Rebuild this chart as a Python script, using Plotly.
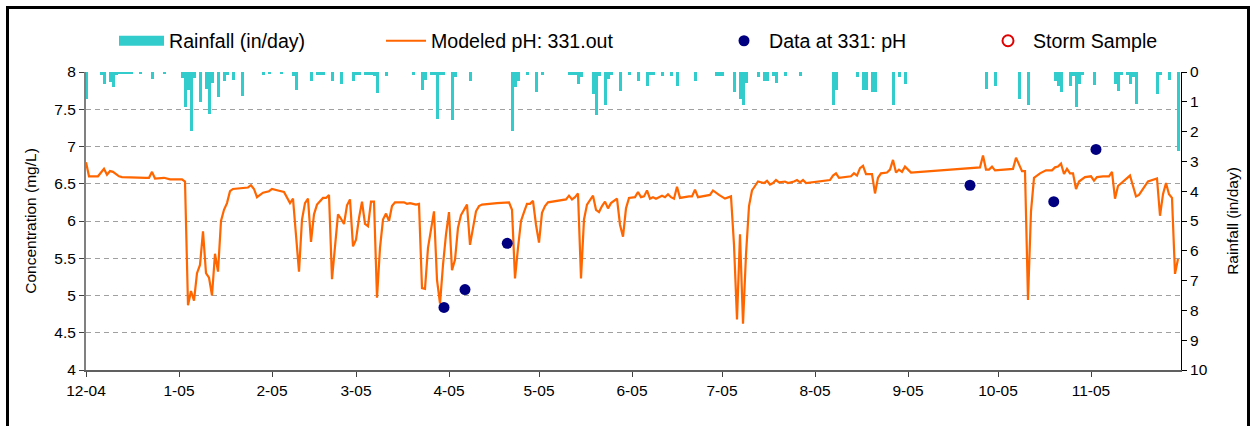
import pandas as pd
import plotly.graph_objects as go

START = pd.Timestamp("2004-12-01")

# Modeled pH (day offset from 2004-12-01, value)
ph_days = [0,1,4,6,7,8,9,11,12,16,20,21,22,23,26,28,32,33,34,35,36,37,38,39,40,41,42,43,44,45,46,47,48,49,
           54,55,56,57,59,61,62,64,66,68,69,71,72,73,74,75,76,77,79,80,81,82,84,85,86,87,88,89,90,91,92,93,94,95,96,97,
           98,99,100,101,102,103,106,107,108,110,111,112,113,114,115,116,117,118,119,120,121,122,123,124,125,127,128,
           130,131,132,137,141,142,143,144,145,146,147,148,149,150,151,152,153,154,157,160,161,162,163,164,165,166,167,
           168,169,170,171,172,173,174,175,177,178,179,180,181,183,184,185,186,187,188,189,190,192,193,194,195,196,197,
           198,201,202,203,204,208,209,211,213,215,216,217,218,219,220,221,222,223,224,226,227,228,229,230,231,233,234,
           236,237,238,239,240,242,244,248,249,250,251,255,256,257,258,259,260,262,263,264,265,267,268,269,270,271,272,
           273,275,298,299,300,301,302,303,309,310,311,312,313,314,315,316,318,320,322,323,324,325,326,327,328,329,330,
           331,333,335,336,337,339,341,342,343,344,346,348,349,350,351,353,354,357,358,359,360,361,362,363,364]
ph_vals = [6.79,6.60,6.60,6.70,6.62,6.67,6.66,6.60,6.59,6.58,6.58,6.58,6.66,6.57,6.58,6.56,6.56,6.53,4.87,5.06,4.93,
           5.30,5.41,5.86,5.30,5.24,5.00,5.56,5.32,6.00,6.15,6.24,6.40,6.43,
           6.45,6.48,6.43,6.32,6.38,6.40,6.43,6.41,6.39,6.24,6.30,5.32,6.02,6.24,6.30,5.72,6.09,6.22,6.31,6.31,6.35,5.22,
           6.09,6.03,5.96,6.21,6.29,5.66,5.75,6.04,6.26,5.96,5.93,6.26,6.26,4.97,
           5.64,6.02,6.10,6.00,6.20,6.25,6.25,6.23,6.24,6.22,6.23,5.10,5.09,5.64,5.86,6.13,5.21,4.89,5.41,5.82,6.12,5.34,
           5.48,5.91,6.08,6.22,5.68,
           6.13,6.20,6.22,6.24,6.25,6.15,5.23,5.64,6.00,6.12,6.23,6.23,6.27,5.95,5.71,6.11,6.20,6.25,6.27,6.29,6.34,6.29,
           6.32,6.37,5.23,6.02,6.22,
           6.29,6.34,6.15,6.12,6.20,6.26,6.17,6.24,6.30,5.95,5.79,6.17,6.31,6.32,6.39,6.32,6.33,6.41,6.30,6.32,6.30,6.34,
           6.32,6.36,6.32,6.30,6.46,
           6.31,6.33,6.33,6.42,6.32,6.35,6.41,6.35,6.30,6.33,5.68,4.68,5.82,4.62,5.55,6.20,6.41,6.47,6.53,6.51,6.54,6.49,
           6.51,6.55,6.52,6.53,6.51,
           6.53,6.55,6.52,6.55,6.51,6.52,6.53,6.55,6.61,6.64,6.58,6.60,6.64,6.61,6.71,6.74,6.63,6.63,6.37,6.58,6.64,6.65,
           6.69,6.82,6.65,6.69,6.66,
           6.73,6.65,6.72,6.88,6.69,6.69,6.73,6.68,6.70,6.85,6.75,6.67,6.67,4.94,6.13,6.58,6.64,6.68,6.68,6.72,6.73,6.77,
           6.63,6.70,6.64,6.64,6.43,
           6.53,6.59,6.60,6.54,6.59,6.60,6.60,6.66,6.30,6.47,6.54,6.61,6.47,6.33,6.35,6.48,6.53,6.57,6.07,6.36,6.51,6.36,
           6.31,5.29,5.49]

# Daily rainfall (in/day)
rain_days = [0,5,6,8,9,10,11,12,13,14,15,18,22,26,32,33,34,35,36,38,40,41,42,44,46,47,49,52,59,61,65,69,70,75,77,78,
             79,82,85,89,90,91,93,94,95,96,97,100,109,112,113,115,116,117,118,119,122,123,128,142,143,144,147,150,152,
             161,162,163,164,165,169,170,171,173,174,175,178,181,184,187,188,189,192,195,197,203,210,211,212,216,218,
             219,220,224,226,227,229,230,233,238,249,250,257,259,260,262,263,269,271,273,300,303,311,314,323,324,325,
             328,329,330,331,332,336,343,344,345,347,348,349,350,357,358,361,364]
rain_vals = [0.89,0.09,0.39,0.34,0.50,0.11,0.06,0.08,0.05,0.07,0.05,0.07,0.22,0.06,0.20,1.17,0.59,1.97,0.20,1.00,0.56,
             1.40,0.37,0.84,0.29,0.11,0.26,0.79,0.09,0.07,0.07,0.15,0.62,0.29,0.09,0.09,
             0.09,0.29,0.39,0.29,0.09,0.09,0.09,0.09,0.09,0.15,0.70,0.15,0.09,0.59,0.26,0.09,0.09,1.57,0.09,0.09,1.60,
             0.18,0.29,1.99,0.51,0.29,0.09,0.68,0.09,
             0.09,0.09,0.09,0.39,0.18,0.73,1.45,0.15,1.12,0.22,0.11,0.63,0.09,0.29,0.48,0.11,0.09,0.15,0.15,0.48,0.29,
             0.15,0.15,0.15,0.68,0.89,
             1.10,0.37,0.18,0.29,0.29,0.15,0.37,0.15,0.15,1.10,0.59,0.18,0.59,0.59,0.68,0.68,1.10,0.18,0.39,0.56,0.48,
             0.89,1.10,0.29,0.48,0.68,
             0.48,0.15,1.17,0.39,0.09,0.43,0.40,0.65,0.11,0.09,0.39,0.18,1.07,0.73,0.09,0.26,2.64]

# Observed pH data at 331
obs_dates = ["2005-03-30 08:00", "2005-04-06 08:00", "2005-04-20 10:00",
             "2005-09-21 16:00", "2005-10-19 14:00", "2005-11-02 16:00"]
obs_vals = [4.84, 5.08, 5.70, 6.48, 6.26, 6.96]

tick_dates = ["2004-12-01", "2005-01-01", "2005-02-01", "2005-03-01", "2005-04-01", "2005-05-01",
              "2005-06-01", "2005-07-01", "2005-08-01", "2005-09-01", "2005-10-01", "2005-11-01"]
tick_text = ["12-04", "1-05", "2-05", "3-05", "4-05", "5-05", "6-05", "7-05", "8-05", "9-05", "10-05", "11-05"]

ph_x = [START + pd.Timedelta(days=d) for d in ph_days]
rain_x = [START + pd.Timedelta(days=d) for d in rain_days]

FONT = "Liberation Sans, Arial, sans-serif"
DAY_MS = 86400000
TEAL = "#33CCCC"

fig = go.Figure()
fig.add_trace(go.Bar(x=rain_x, y=rain_vals, yaxis="y2", name="Rainfall (in/day)",
                     marker=dict(color=TEAL, line=dict(width=0)), width=DAY_MS,
                     legendgroup="rain", showlegend=False))
# legend swatch for the rainfall bars (wide block like the original)
fig.add_trace(go.Scatter(x=[None], y=[None], mode="lines", name="Rainfall (in/day)", yaxis="y2",
                         line=dict(color=TEAL, width=14), legendgroup="rain", legend="legend",
                         showlegend=True))
fig.add_trace(go.Scatter(x=ph_x, y=ph_vals, mode="lines", name="Modeled pH: 331.out",
                         line=dict(color="#FF6600", width=2.2), legend="legend2"))
fig.add_trace(go.Scatter(x=obs_dates, y=obs_vals, mode="markers", name="Data at 331: pH",
                         marker=dict(color="#000080", size=11), legend="legend3"))
fig.add_trace(go.Scatter(x=[None], y=[None], mode="markers", name="Storm Sample",
                         marker=dict(color="rgba(0,0,0,0)", size=11, line=dict(color="#E00000", width=2)),
                         legend="legend4"))

W, H = 1254, 426
L, R, T, B = 86, 1181, 72, 370

def px(xs):
    return (xs - L) / (R - L)

def py(ys):
    return (B - ys) / (B - T)

legfont = dict(family=FONT, size=19.6, color="#000000")
common = dict(orientation="h", yanchor="middle", xanchor="left", font=legfont, bgcolor="rgba(0,0,0,0)")
TF = 15.5
fig.update_layout(
    width=W, height=H,
    showlegend=True,
    margin=dict(l=L, r=W - R, t=T, b=H - B, autoexpand=False),
    paper_bgcolor="white", plot_bgcolor="white",
    font=dict(family=FONT, size=TF, color="#000000"),
    bargap=0,
    legend=dict(x=px(114), y=py(41), itemwidth=45, **common),
    legend2=dict(x=px(381), y=py(41), itemwidth=40, **common),
    legend3=dict(x=px(719), y=py(41), itemwidth=40, **common),
    legend4=dict(x=px(983), y=py(41), itemwidth=40, **common),
    xaxis=dict(type="date", range=["2004-12-01", "2005-12-01"], tickvals=tick_dates, ticktext=tick_text,
               ticks="outside", ticklen=5, tickcolor="#404040", showline=True, linecolor="#606060", linewidth=2,
               showgrid=False, zeroline=False, tickfont=dict(size=TF, family=FONT)),
    yaxis=dict(range=[4, 8], dtick=0.5, ticks="outside", ticklen=5, tickcolor="#404040",
               showline=True, linecolor="#808080", linewidth=2, showgrid=True, gridcolor="#A0A0A0",
               griddash="5px,4px", gridwidth=1, zeroline=False,
               title=dict(text="Concentration (mg/L)", font=dict(size=TF, family=FONT), standoff=14),
               tickfont=dict(size=TF, family=FONT)),
    yaxis2=dict(range=[10, 0], dtick=1, overlaying="y", side="right", ticks="outside", ticklen=5,
                tickcolor="#000000", showline=True, linecolor="#000000", linewidth=1, showgrid=False,
                zeroline=False, title=dict(text="Rainfall (in/day)", font=dict(size=TF, family=FONT), standoff=20),
                tickfont=dict(size=TF, family=FONT)),
    shapes=[dict(type="rect", xref="paper", yref="paper", x0=px(7.5), x1=px(1248.5), y0=py(440), y1=py(7.5),
                 line=dict(color="#000000", width=3), fillcolor="rgba(0,0,0,0)", layer="above")],
)

fig.write_html("out.html", config={"displayModeBar": False},
               post_script="document.body.style.margin='0';document.body.style.overflow='hidden';")
